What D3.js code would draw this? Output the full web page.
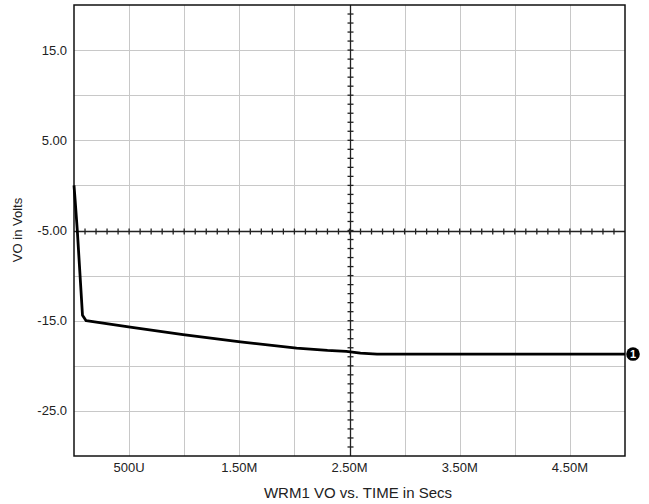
<!DOCTYPE html>
<html>
<head>
<meta charset="utf-8">
<script src="https://cdn.jsdelivr.net/npm/d3@7"></script>
<style>
  body { margin: 0; background: #fff; }
  svg { font-family: "Liberation Sans", Arial, sans-serif; }
</style>
</head>
<body>
<div id="chart"></div>
<script>
// time in ms, voltage in V
var timeMs = [0, 0.01, 0.03, 0.077, 0.11, 0.51, 0.99, 1.51, 2.02, 2.3, 2.47, 2.6, 2.75, 3.5, 4.25, 5.0];
var voltage = [0, -1.6, -5.0, -14.4, -15.0, -15.7, -16.55, -17.35, -18.05, -18.3, -18.4, -18.6, -18.7, -18.7, -18.7, -18.7];

var xTickVals = [0.5, 1.5, 2.5, 3.5, 4.5];
var xTickText = ["500U", "1.50M", "2.50M", "3.50M", "4.50M"];
var yTickVals = [15, 5, -5, -15, -25];
var yTickText = ["15.0", "5.00", "-5.00", "-15.0", "-25.0"];

(function () {
  var W = 649, H = 504;
  var pLeft = 74, pRight = 625, pTop = 5, pBottom = 456;

  var svg = d3.select("#chart").append("svg").attr("width", W).attr("height", H);

  var x = d3.scaleLinear().domain([0, 5]).range([pLeft, pRight]);
  var y = d3.scaleLinear().domain([-30, 20]).range([pBottom, pTop]);

  // grid
  var grid = svg.append("g").attr("stroke", "#c8c8c8").attr("stroke-width", 1);
  grid.selectAll("line.v").data(d3.range(0.5, 5, 0.5)).enter().append("line")
    .attr("x1", function (d) { return Math.round(x(d)) + 0.5; })
    .attr("x2", function (d) { return Math.round(x(d)) + 0.5; })
    .attr("y1", pTop).attr("y2", pBottom);
  grid.selectAll("line.h").data(d3.range(-25, 20, 5)).enter().append("line")
    .attr("y1", function (d) { return Math.round(y(d)) + 0.5; })
    .attr("y2", function (d) { return Math.round(y(d)) + 0.5; })
    .attr("x1", pLeft).attr("x2", pRight);

  // center axes with minor ticks
  var cx = Math.round(x(2.5)) + 0.5, cy = Math.round(y(-5)) + 0.5;
  var ax = svg.append("g").attr("stroke", "#222").attr("stroke-width", 1.3);
  ax.append("line").attr("x1", pLeft).attr("x2", pRight).attr("y1", cy).attr("y2", cy);
  ax.append("line").attr("x1", cx).attr("x2", cx).attr("y1", pTop).attr("y2", pBottom);
  ax.selectAll("line.tx").data(d3.range(1, 50)).enter().append("line")
    .attr("x1", function (d) { return x(d / 10); })
    .attr("x2", function (d) { return x(d / 10); })
    .attr("y1", cy - 3).attr("y2", cy + 3);
  ax.selectAll("line.ty").data(d3.range(-29, 20)).enter().append("line")
    .attr("y1", function (d) { return y(d); })
    .attr("y2", function (d) { return y(d); })
    .attr("x1", cx - 3).attr("x2", cx + 3);

  // frame
  svg.append("rect").attr("x", pLeft).attr("y", pTop)
    .attr("width", pRight - pLeft).attr("height", pBottom - pTop)
    .attr("fill", "none").attr("stroke", "#111").attr("stroke-width", 1.5);

  // tick labels
  svg.selectAll("text.xt").data(xTickVals).enter().append("text")
    .attr("x", function (d) { return x(d); }).attr("y", 472)
    .attr("text-anchor", "middle").attr("font-size", 13).attr("fill", "#222")
    .text(function (d, i) { return xTickText[i]; });
  svg.selectAll("text.yt").data(yTickVals).enter().append("text")
    .attr("x", 67).attr("y", function (d) { return y(d) + 4.5; })
    .attr("text-anchor", "end").attr("font-size", 13).attr("fill", "#222")
    .text(function (d, i) { return yTickText[i]; });

  // axis titles
  svg.append("text").attr("x", 358).attr("y", 498).attr("text-anchor", "middle")
    .attr("font-size", 15).attr("fill", "#222").text("WRM1 VO vs. TIME in Secs");
  svg.append("text").attr("transform", "translate(22,230) rotate(-90)")
    .attr("text-anchor", "middle").attr("font-size", 13).attr("fill", "#222")
    .text("VO in Volts");

  // trace
  var pts = timeMs.map(function (t, i) { return [t, voltage[i]]; });
  var line = d3.line().x(function (d) { return x(d[0]); }).y(function (d) { return y(d[1]); });
  svg.append("path").datum(pts).attr("d", line)
    .attr("fill", "none").attr("stroke", "#000").attr("stroke-width", 2.8)
    .attr("stroke-linejoin", "round");

  // trace marker
  var last = pts[pts.length - 1];
  svg.append("circle").attr("cx", x(last[0]) + 8).attr("cy", y(last[1]))
    .attr("r", 6.8).attr("fill", "#000");
  svg.append("text").attr("x", x(last[0]) + 8).attr("y", y(last[1]) + 4)
    .attr("text-anchor", "middle").attr("font-size", 11).attr("font-weight", "bold")
    .attr("fill", "#fff").text("1");
})();
</script>
</body>
</html>
